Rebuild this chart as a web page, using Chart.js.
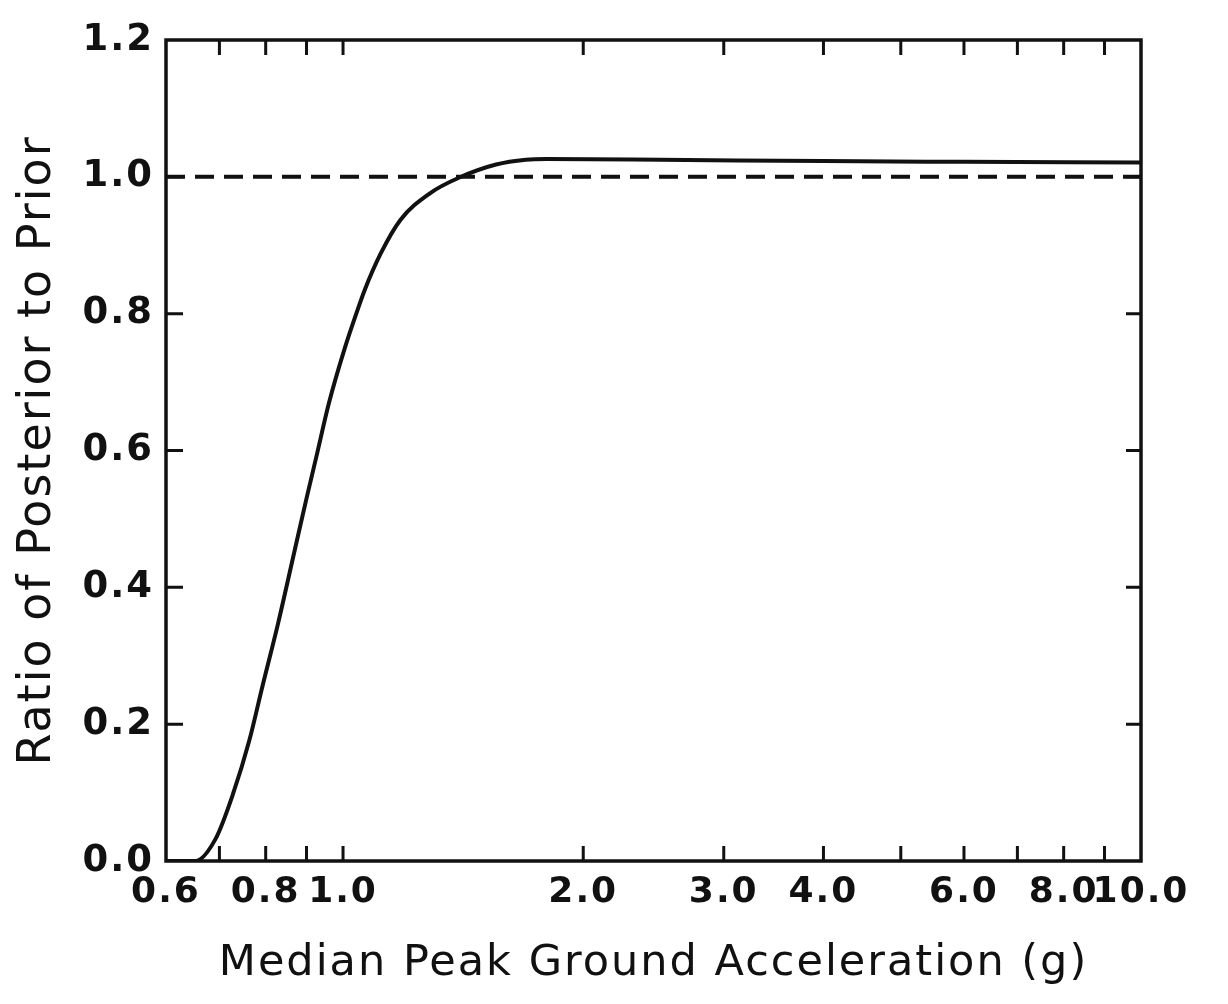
<!DOCTYPE html>
<html>
<head>
<meta charset="utf-8">
<script src="https://cdn.jsdelivr.net/npm/chart.js@4.4.1/dist/chart.umd.min.js"></script>
<style>
  html, body { margin: 0; padding: 0; background: #fff; }
  #wrap { width: 1228px; height: 1004px; position: relative; }
</style>
</head>
<body>
<div id="wrap"><canvas id="chartRatio"></canvas></div>
<script>
// curve (median PGA in g, posterior/prior ratio)
const accel = [0.6, 0.653, 0.692, 0.728, 0.763, 0.792, 0.829, 0.869, 0.900, 0.926, 0.960, 1.006, 1.039, 1.064, 1.115, 1.18, 1.285, 1.399, 1.555, 1.695, 1.8, 2.5, 4.0, 6.0, 10.0];
const ratio = [0, 0, 0.032, 0.098, 0.176, 0.254, 0.347, 0.452, 0.530, 0.591, 0.669, 0.751, 0.800, 0.834, 0.888, 0.937, 0.976, 0.999, 1.018, 1.025, 1.026, 1.025, 1.023, 1.022, 1.021];

// reference line at ratio = 1
const refX = [0.6, 10.0];
const refY = [1.0, 1.0];

// axis ticks
const xTicks = [0.6, 0.7, 0.8, 0.9, 1, 2, 3, 4, 5, 6, 7, 8, 9, 10];
const xLabeled = [0.6, 0.8, 1, 2, 3, 4, 6, 8, 10];
const yTicks = [0, 0.2, 0.4, 0.6, 0.8, 1.0, 1.2];

const ink = '#111';
const font = "'DejaVu Sans', 'Liberation Sans', sans-serif";

// wide lettering like the old typeset figure
const spacing = {
	id: 'spacing',
	beforeLayout(chart) { chart.ctx.letterSpacing = '2px'; },
	beforeDraw(chart) { chart.ctx.letterSpacing = '2px'; }
};

// box around the plot + inward tick marks on all four sides
const frame = {
	id: 'frame',
	afterDraw(chart) {
		const ctx = chart.ctx;
		const a = chart.chartArea;
		const xs = chart.scales.x, ys = chart.scales.y;
		ctx.save();
		ctx.strokeStyle = ink;
		ctx.lineWidth = 3.5;
		ctx.strokeRect(a.left, a.top, a.right - a.left, a.bottom - a.top);
		ctx.lineWidth = 3;
		ctx.beginPath();
		xTicks.forEach(v => {
			if (v <= xs.min || v >= xs.max) return;
			const px = xs.getPixelForValue(v);
			ctx.moveTo(px, a.bottom); ctx.lineTo(px, a.bottom - 15);
			ctx.moveTo(px, a.top); ctx.lineTo(px, a.top + 15);
		});
		yTicks.forEach(v => {
			if (v <= ys.min || v >= ys.max) return;
			const py = ys.getPixelForValue(v);
			ctx.moveTo(a.left, py); ctx.lineTo(a.left + 17, py);
			ctx.moveTo(a.right, py); ctx.lineTo(a.right - 15, py);
		});
		ctx.stroke();
		ctx.restore();
	}
};

const chartRatio = new Chart(
	document.getElementById('chartRatio'),
	{
		type: 'line',
		data: {
			datasets: [{
				data: accel.map((x, i) => ({ x: x, y: ratio[i] })),
				borderColor: ink,
				borderWidth: 4,
				pointRadius: 0,
				cubicInterpolationMode: 'monotone',
				fill: false
			}, {
				data: refX.map((x, i) => ({ x: x, y: refY[i] })),
				borderColor: ink,
				borderWidth: 4,
				borderDash: [19, 10],
				pointRadius: 0,
				fill: false
			}]
		},
		options: {
			responsive: true,
			maintainAspectRatio: false,
			animation: false,
			layout: { padding: { top: 40, right: 87, bottom: 0, left: 0 } },
			plugins: {
				legend: { display: false },
				tooltip: { enabled: false }
			},
			scales: {
				x: {
					type: 'logarithmic',
					min: 0.6,
					max: 10,
					afterBuildTicks: (scale) => {
						scale.ticks = xTicks.map(v => ({ value: v }));
					},
					afterFit: (scale) => { scale.height = 143; },
					grid: { display: false },
					border: { display: false },
					ticks: {
						autoSkip: false,
						maxRotation: 0,
						padding: 2,
						color: ink,
						font: { family: font, size: 36, weight: 'bold' },
						callback: (value) => xLabeled.includes(value) ? value.toFixed(1) : ''
					},
					title: {
						display: true,
						text: 'Median Peak Ground Acceleration (g)',
						color: ink,
						font: { family: font, size: 43 },
						padding: { top: 0, bottom: 14 }
					}
				},
				y: {
					min: 0,
					max: 1.2,
					afterBuildTicks: (scale) => {
						scale.ticks = yTicks.map(v => ({ value: v }));
					},
					afterFit: (scale) => { scale.width = 166; },
					grid: { display: false },
					border: { display: false },
					ticks: {
						padding: 4,
						color: ink,
						font: { family: font, size: 37, weight: 'bold' },
						callback: (value) => value.toFixed(1)
					},
					title: {
						display: true,
						text: 'Ratio of Posterior to Prior',
						color: ink,
						font: { family: font, size: 46 },
						padding: { top: 10, bottom: 0 }
					}
				}
			}
		},
		plugins: [spacing, frame]
	}
);
</script>
</body>
</html>
